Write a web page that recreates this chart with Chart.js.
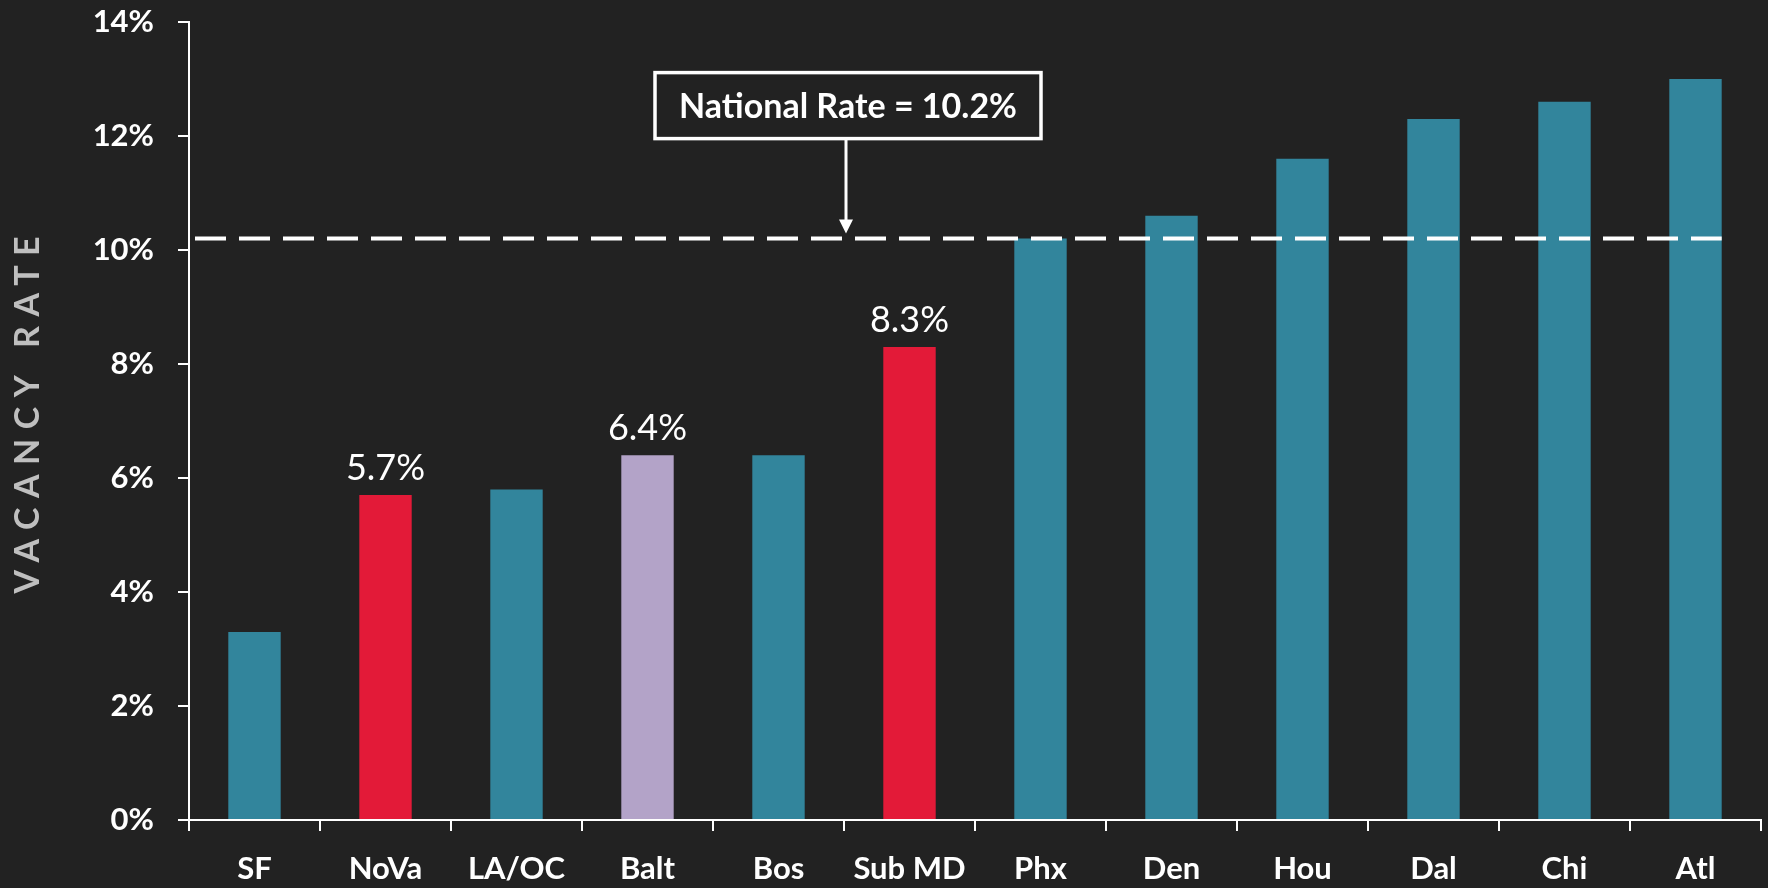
<!doctype html>
<html>

<head>
    <title>Vacancy Rate</title>
    <script src="https://cdn.jsdelivr.net/npm/chart.js"></script>
    <style>
        html, body { margin: 0; padding: 0; background: #222222; }
        #wrap { width: 1768px; height: 888px; }
    </style>
</head>

<body>
    <div id="wrap"><canvas id="vacancy"></canvas></div>

    <script>
        // data
        var markets = ['SF', 'NoVa', 'LA/OC', 'Balt', 'Bos', 'Sub MD', 'Phx', 'Den', 'Hou', 'Dal', 'Chi', 'Atl'];
        var vacancy = [3.3, 5.7, 5.8, 6.4, 6.4, 8.3, 10.2, 10.6, 11.6, 12.3, 12.6, 13.0];
        var marketGroup = ['peer', 'dc', 'peer', 'balt', 'peer', 'dc', 'peer', 'peer', 'peer', 'peer', 'peer', 'peer'];
        var labelledMarkets = ['NoVa', 'Balt', 'Sub MD'];
        var nationalRate = 10.2;
        var nationalText = 'National Rate = 10.2%';
        var axisTitle = 'VACANCY RATE';

        var groupColor = { peer: '#32859C', dc: '#E31A38', balt: '#B3A3C8' };
        var white = '#ffffff';

        Chart.defaults.font.family = 'Lato';

        var overlay = {
            id: 'overlay',
            afterDatasetsDraw: function (chart) {
                var ctx = chart.ctx;
                var xs = chart.scales.x, ys = chart.scales.y, area = chart.chartArea;
                var meta = chart.getDatasetMeta(0);

                // value labels
                ctx.save();
                ctx.fillStyle = white;
                ctx.font = '36px Lato';
                ctx.textAlign = 'center';
                ctx.textBaseline = 'alphabetic';
                markets.forEach(function (m, i) {
                    if (labelledMarkets.indexOf(m) < 0) return;
                    var bar = meta.data[i];
                    ctx.fillText(vacancy[i].toFixed(1) + '%', bar.x, bar.y - 15);
                });
                ctx.restore();

                // national rate dashed line
                var yLine = ys.getPixelForValue(nationalRate);
                var last = meta.data[meta.data.length - 1];
                ctx.save();
                ctx.strokeStyle = white;
                ctx.lineWidth = 4;
                ctx.setLineDash([31, 13]);
                ctx.beginPath();
                ctx.moveTo(area.left + 6, yLine);
                ctx.lineTo(last.x + last.width / 2, yLine);
                ctx.stroke();
                ctx.restore();

                // callout box + arrow
                var ax = (xs.getPixelForValue(4) + xs.getPixelForValue(5)) / 2 + 2;
                var boxW = 386, boxH = 66;
                var boxBottom = yLine - 100;
                var boxTop = boxBottom - boxH;
                ctx.save();
                ctx.strokeStyle = white;
                ctx.fillStyle = white;
                ctx.lineWidth = 3;
                ctx.beginPath();
                ctx.moveTo(ax, boxBottom);
                ctx.lineTo(ax, yLine - 18);
                ctx.stroke();
                ctx.beginPath();
                ctx.moveTo(ax - 7, yLine - 19);
                ctx.lineTo(ax + 7, yLine - 19);
                ctx.lineTo(ax, yLine - 5);
                ctx.closePath();
                ctx.fill();
                ctx.lineWidth = 3.5;
                ctx.fillStyle = '#222222';
                ctx.fillRect(ax + 2 - boxW / 2, boxTop, boxW, boxH);
                ctx.strokeRect(ax + 2 - boxW / 2, boxTop, boxW, boxH);
                ctx.fillStyle = white;
                ctx.font = 'bold 34px Lato';
                ctx.textAlign = 'center';
                ctx.textBaseline = 'alphabetic';
                ctx.fillText(nationalText, ax + 2, boxTop + 45);
                ctx.restore();

                // rotated axis title with letter spacing
                ctx.save();
                ctx.fillStyle = '#BFBFBF';
                ctx.font = 'bold 34px Lato';
                ctx.letterSpacing = '9.5px';
                ctx.textAlign = 'center';
                ctx.textBaseline = 'middle';
                ctx.translate(28, (area.top + area.bottom) / 2 - 6);
                ctx.rotate(-Math.PI / 2);
                ctx.fillText(axisTitle, 4.75, 0);
                ctx.restore();
            }
        };

        var vacancyChart = new Chart(document.getElementById('vacancy').getContext('2d'), {
            type: 'bar',
            data: {
                labels: markets,
                datasets: [{
                    label: 'Vacancy rate',
                    data: vacancy,
                    backgroundColor: marketGroup.map(function (g) { return groupColor[g]; }),
                    borderWidth: 0,
                    barPercentage: 0.4,
                    categoryPercentage: 1
                }]
            },
            options: {
                responsive: true,
                maintainAspectRatio: false,
                animation: false,
                layout: { padding: { top: 0, right: 7, left: 0, bottom: 0 } },
                plugins: {
                    legend: { display: false },
                    tooltip: { enabled: false }
                },
                scales: {
                    x: {
                        ticks: {
                            color: white,
                            font: { family: 'Lato', weight: 'bold', size: 31 },
                            padding: 19,
                            maxRotation: 0
                        },
                        grid: {
                            offset: true,
                            drawOnChartArea: false,
                            tickLength: 11,
                            color: white,
                            lineWidth: 2
                        },
                        border: { color: white, width: 2 },
                        afterFit: function (s) {
                            s.height = 68;
                            s.paddingLeft = 0;
                            s.paddingRight = 0;
                        }
                    },
                    y: {
                        min: 0,
                        max: 14,
                        ticks: {
                            stepSize: 2,
                            color: white,
                            font: { family: 'Lato', weight: 'bold', size: 31 },
                            padding: 24,
                            callback: function (v) { return v + '%'; }
                        },
                        grid: {
                            drawOnChartArea: false,
                            tickLength: 11,
                            color: white,
                            lineWidth: 2
                        },
                        border: { color: white, width: 2 },
                        afterFit: function (s) {
                            s.width = 189;
                            s.paddingTop = 22;
                            s.paddingBottom = 0;
                        }
                    }
                }
            },
            plugins: [overlay]
        });
    </script>
</body>

</html>
